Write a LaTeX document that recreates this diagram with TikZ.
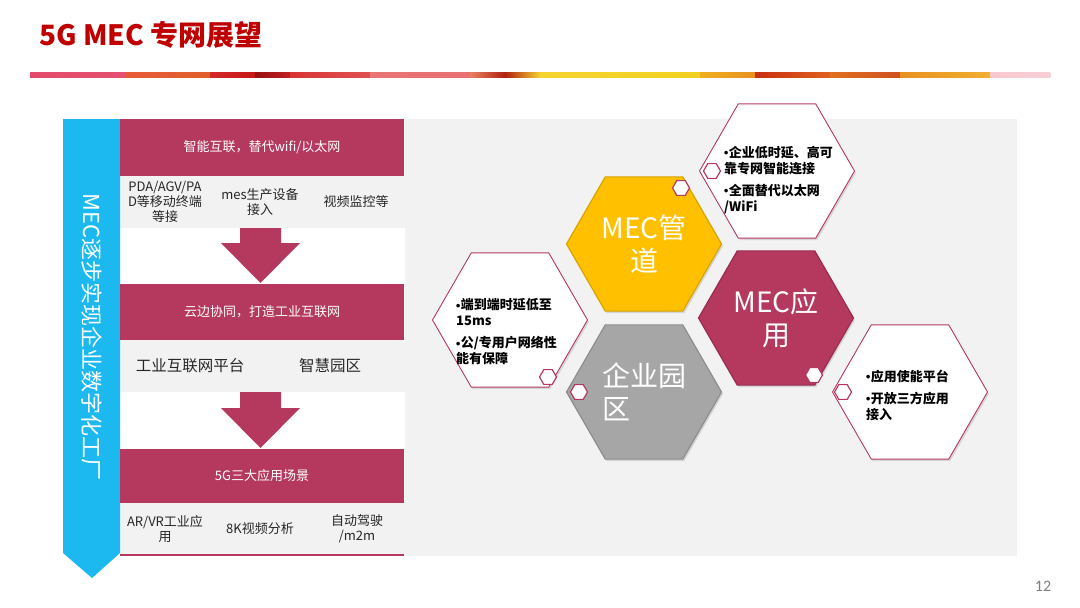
\documentclass[tikz,border=0pt]{standalone}
\usepackage{fontspec}
\setmainfont{Noto Sans CJK SC}
\newfontfamily\numfont{Carlito}
\usetikzlibrary{shapes.geometric,shadows}
\definecolor{mag}{HTML}{B5395F}
\definecolor{magD}{HTML}{9A2C50}
\definecolor{cyanA}{HTML}{1CB9F0}
\definecolor{panel}{HTML}{F2F2F2}
\definecolor{gold}{HTML}{FFC000}
\definecolor{goldD}{HTML}{D9A300}
\definecolor{grayH}{HTML}{A6A6A6}
\definecolor{grayD}{HTML}{8E8E8E}
\definecolor{titlered}{HTML}{C00000}
\definecolor{numgray}{HTML}{7F7F7F}
\newcommand{\bul}{{\numfont\fontsize{8.5}{8.5}\selectfont\raisebox{0.45ex}{•}}\kern0.5pt}
\tikzset{
  hexbig/.style={regular polygon, regular polygon sides=6,
    minimum size=155pt, inner sep=0pt, line width=1.2pt,
    drop shadow={shadow xshift=1.5pt, shadow yshift=-2pt, opacity=.25}},
  hexsmall/.style={regular polygon, regular polygon sides=6,
    minimum size=17pt, inner sep=0pt, fill=white, draw=mag, line width=1.2pt},
  bigtxt/.style={text=white, font=\fontsize{28}{33}\selectfont},
  bullettxt/.style={anchor=west, align=left, inner sep=0pt, text=black,
    font=\bfseries\fontsize{13}{16}\selectfont},
  headbox/.style={fill=mag, text=white, minimum width=284pt, inner sep=0pt,
    font=\fontsize{13}{15}\selectfont},
  rowtxt/.style={align=center, text=black!85, inner sep=0pt, font=\fontsize{13}{15}\selectfont},
  rowbig/.style={text=black!85, inner sep=0pt, font=\fontsize{15.5}{18}\selectfont},
}
\begin{document}
\begin{tikzpicture}[x=1pt,y=-1pt]
\useasboundingbox (0,0) rectangle (1080,608);
\fill[white] (0,0) rectangle (1080,608);
% title
\node[anchor=west, text=titlered, inner sep=0pt, font=\bfseries\fontsize{28}{32}\selectfont] (title) at (39,35) {5G MEC 专网展望};
% stripe
\foreach \a/\b/\c/\d in {30/125/E24A6C/E65070, 125/210/E85A3A/E0602A, 210/255/D42828/C81818,
  255/290/9A1010/C02020, 290/370/D83434/E05050, 370/470/E87474/E87070, 470/505/E88060/B02010,
  505/540/B02010/F5D030, 540/700/F5D430/F2D020, 700/755/F0B020/E89020, 755/830/C83010/E06020,
  830/900/E07020/D05020, 900/990/E89020/F0B030, 990/1050/F8C8D0/F8D0D8}{
  \definecolor{ca}{HTML}{\c}\definecolor{cb}{HTML}{\d}
  \shade[left color=ca, right color=cb] (\a,72) rectangle (\b+0.3,77);
}
% panel and rows
\fill[panel] (405,119) rectangle (1017,556);
\fill[panel] (120,176) rectangle (405,228);
\fill[panel] (120,340) rectangle (405,392);
\fill[panel] (120,503) rectangle (405,555);
\draw[mag, line width=1.5pt] (120,555) -- (404,555);
% cyan arrow
\fill[cyanA] (63,119) -- (120,119) -- (120,553) -- (92,578) -- (63,553) -- cycle;
\node[rotate=-90, text=white, inner sep=0pt, font=\fontsize{22}{24}\selectfont] (vt) at (92,337) {MEC逐步实现企业数字化工厂};
% head boxes
\node[headbox, minimum height=57pt] (b1) at (262,147.5) {智能互联，替代wifi/以太网};
\node[headbox, minimum height=56pt] (b2) at (262,312) {云边协同，打造工业互联网};
\node[headbox, minimum height=54pt] (b3) at (262,476) {5G三大应用场景};
% row texts
\node[rowtxt] (r11) at (165,202) {PDA/AGV/PA\\D等移动终端\\等接};
\node[rowtxt] (r12) at (260,202) {mes生产设备\\接入};
\node[rowtxt] (r13) at (356,202) {视频监控等};
\node[rowbig] (r21) at (190,366) {工业互联网平台};
\node[rowbig] (r22) at (330,366) {智慧园区};
\node[rowtxt] (r31) at (165,529) {AR/VR工业应\\用};
\node[rowtxt] (r32) at (260,529) {8K视频分析};
\node[rowtxt] (r33) at (357,529) {自动驾驶\\/m2m};
% down arrows
\fill[mag] (240,228) -- (281,228) -- (281,243) -- (300,243) -- (260.5,283) -- (221,243) -- (240,243) -- cycle;
\fill[mag] (240,392) -- (281,392) -- (281,408) -- (300,408) -- (260.5,448) -- (221,408) -- (240,408) -- cycle;
% hexagons
\node[hexbig, fill=white, draw=mag, line width=0.9pt] (hur) at (777,171) {};
\node[hexbig, fill=white, draw=mag, line width=0.9pt] (hl) at (510,320) {};
\node[hexbig, fill=white, draw=mag, line width=0.9pt] (hlr) at (910,392) {};
\node[hexbig, fill=gold, draw=goldD, bigtxt, align=center] (hp) at (644,244) {MEC管\\道};
\node[hexbig, fill=mag, draw=magD, bigtxt, align=center] (ha) at (776,318) {MEC应\\用};
\node[hexbig, fill=grayH, draw=grayD, bigtxt, align=left] (hg) at (644,392) {企业园\\区};
% small hexagons
\node[hexsmall] (s1) at (681,188) {};
\node[hexsmall] (s2) at (712,171) {};
\node[hexsmall] (s3) at (548,377) {};
\node[hexsmall] (s4) at (579,392) {};
\node[hexsmall] (s5) at (814,375) {};
\node[hexsmall] (s6) at (843,392) {};
% bullet texts
\node[bullettxt] (t1) at (724,180) {\bul 企业低时延、高可\\靠专网智能连接\\[6pt]\bul 全面替代以太网\\/WiFi};
\node[bullettxt] (t2) at (456,332) {\bul 端到端时延低至\\15ms\\[6pt]\bul 公/专用户网络性\\能有保障};
\node[bullettxt] (t3) at (866,395) {\bul 应用使能平台\\[6pt]\bul 开放三方应用\\接入};
% page number
\node[text=numgray, inner sep=0pt, font=\numfont\fontsize{16}{16}\selectfont] (pn) at (1043,586) {12};
\end{tikzpicture}
\end{document}
